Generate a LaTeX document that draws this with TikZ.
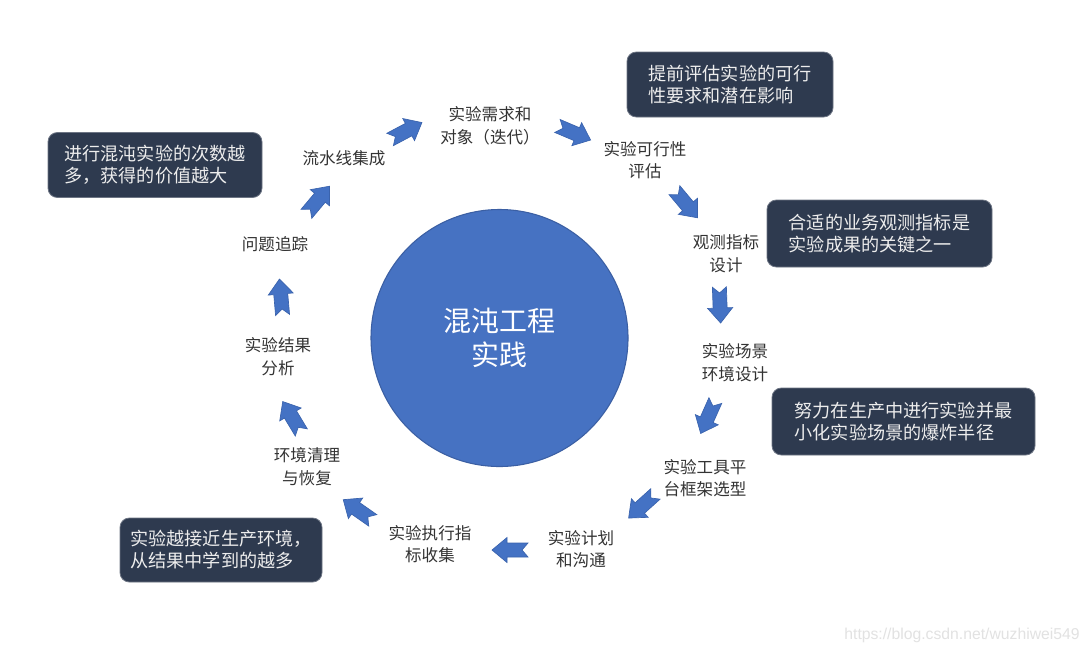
\documentclass[tikz,border=0pt]{standalone}
\usepackage{fontspec}
\setmainfont{Noto Sans CJK SC}
\newfontfamily\wmfont{Liberation Sans}
\definecolor{arrowblue}{HTML}{4472C4}
\definecolor{arrowedge}{HTML}{3A63AD}
\definecolor{circlefill}{HTML}{4672C2}
\definecolor{circleedge}{HTML}{3B5FA3}
\definecolor{labelgray}{HTML}{333333}
\definecolor{boxnavy}{HTML}{2E3A4F}
\definecolor{boxtext}{HTML}{EDEDED}
\definecolor{wmgray}{HTML}{E2E2E2}
\begin{document}
\begin{tikzpicture}[x=0.75pt,y=-0.75pt,
  lbl/.style={text=labelgray, font=\fontsize{12.4}{17}\selectfont, align=center, inner sep=0pt},
  tipbox/.style={fill=boxnavy, draw=boxnavy!70!white, line width=0.6pt, rounded corners=7pt, text=boxtext,
    font=\fontsize{13.6}{16.5}\selectfont, align=left, inner sep=0pt},
  flowarrow/.pic={\filldraw[fill=arrowblue, draw=arrowedge, line width=0.5pt, line join=miter]
    (-18,7) -- (3,7) -- (3,12.5) -- (18,0) -- (3,-12.5) -- (3,-7) -- (-18,-7) -- (-12,0) -- cycle;}
]
\useasboundingbox[fill=white] (0,0) rectangle (1091,654);

% central circle
\node[circle, fill=circlefill, draw=circleedge, line width=0.8pt, minimum size=257*0.75pt, inner sep=0pt,
  text=white, font=\fontsize{21}{26}\selectfont, align=center] (core) at (499.5,338) {混沌工程\\实践};

% step labels
\node[lbl] (s1) at (490,126) {实验需求和\\对象（迭代）};
\node[lbl] (s2) at (645,160) {实验可行性\\评估};
\node[lbl] (s3) at (726,254) {观测指标\\设计};
\node[lbl] (s4) at (735,363) {实验场景\\环境设计};
\node[lbl] (s5) at (705,478) {实验工具平\\台框架选型};
\node[lbl] (s6) at (581,549) {实验计划\\和沟通};
\node[lbl] (s7) at (430,544) {实验执行指\\标收集};
\node[lbl] (s8) at (307,467) {环境清理\\与恢复};
\node[lbl] (s9) at (278,357) {实验结果\\分析};
\node[lbl] (s10) at (275,244) {问题追踪};
\node[lbl] (s11) at (344,158) {流水线集成};

% block arrows
\pic[rotate=28] (a1) at (406,131) {flowarrow};
\pic[rotate=-23] (a2) at (574,133) {flowarrow};
\pic[rotate=-50] (a3) at (686,204) {flowarrow};
\pic[rotate=-88] (a4) at (720,305) {flowarrow};
\pic[rotate=-114] (a5) at (708,417) {flowarrow};
\pic[rotate=-138] (a6) at (642,506) {flowarrow};
\pic[rotate=180] (a7) at (510,550) {flowarrow};
\pic[rotate=145] (a8) at (358,510) {flowarrow};
\pic[rotate=121] (a9) at (292,417) {flowarrow};
\pic[rotate=95] (a10) at (281,297) {flowarrow};
\pic[rotate=50] (a11) at (318,200) {flowarrow};

% dark tip boxes
\node[tipbox, minimum width=206*0.75pt, minimum height=65*0.75pt] (t1) at (730,84.5) {提前评估实验的可行\\性要求和潜在影响};
\node[tipbox, minimum width=214*0.75pt, minimum height=65*0.75pt] (t2) at (155,165) {进行混沌实验的次数越\\多，获得的价值越大};
\node[tipbox, minimum width=225*0.75pt, minimum height=67*0.75pt] (t3) at (879.5,233.5) {合适的业务观测指标是\\实验成果的关键之一};
\node[tipbox, minimum width=263*0.75pt, minimum height=67*0.75pt] (t4) at (903.5,421.5) {努力在生产中进行实验并最\\小化实验场景的爆炸半径};
\node[tipbox, minimum width=202*0.75pt, minimum height=64*0.75pt] (t5) at (221,550) {实验越接近生产环境，\\从结果中学到的越多};

% watermark
\node[text=wmgray, font=\wmfont\fontsize{11.8}{13}\selectfont, inner sep=0pt] (wm) at (962,635) {https://blog.csdn.net/wuzhiwei549};
\end{tikzpicture}
\end{document}
